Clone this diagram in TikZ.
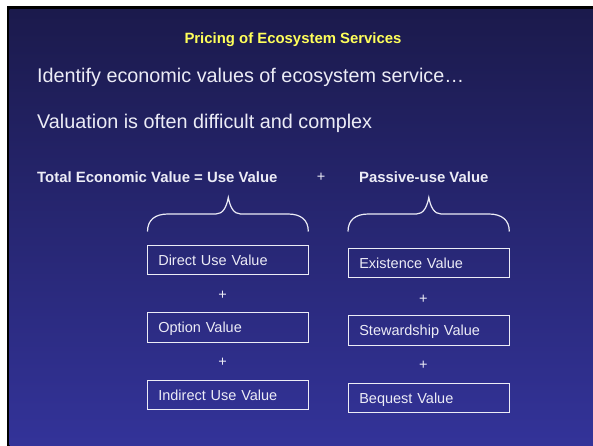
\documentclass[tikz,border=0pt]{standalone}
\usepackage{fontspec}
\setmainfont{Liberation Sans}
\usepackage{xcolor}
\definecolor{slidetop}{RGB}{27,26,76}
\definecolor{slidebot}{RGB}{51,51,153}
\definecolor{titleyellow}{RGB}{255,255,90}
\definecolor{pale}{RGB}{236,236,246}

\begin{document}
\begin{tikzpicture}[x=1pt,y=-1pt]
      \useasboundingbox (0,0) rectangle (593,446);
      \tikzset{T/.style = {text=pale, font=\fontsize{19.8}{23}\selectfont, anchor=base west, inner sep=0pt}}
      \tikzset{H/.style = {text=pale, font=\bfseries\fontsize{14.9}{17}\selectfont, anchor=base west, inner sep=0pt}}
      \tikzset{P/.style = {text=pale, font=\fontsize{14.5}{17}\selectfont, inner sep=0pt}}
      \tikzset{B/.style = {draw=pale, line width=1.2pt, minimum width=161pt, minimum height=29.5pt, text width=139pt, inner xsep=11pt, align=left, text=pale, font=\fontsize{14.5}{17}\selectfont, text height=10.5pt, text depth=0pt}}
      \tikzset{Br/.style = {draw=pale, line width=1.2pt}}
      \fill[white] (0,0) rectangle (593,446);
      \fill[black] (6.5,6.5) rectangle (593,446);
      \shade[top color=slidetop, bottom color=slidebot] (9.5,9.5) rectangle (593,446);
      \node[H,text=titleyellow,anchor=base](title) at (293,44) {Pricing of Ecosystem Services};
      \node[T](intro) at (37,82.5) {Identify economic values of ecosystem service…};
      \node[T](hard) at (37,129) {Valuation is often difficult and complex};
      \node[H](tev) at (37,182.3) {Total Economic Value = Use Value};
      \node[P](p0) at (321,177.3) {+};
      \node[H](passive) at (359,182.3) {Passive-use Value};
      \node[B](direct) at (227.8,260) {Direct Use Value};
      \node[P](p1) at (222.7,295.7) {+};
      \node[B](option) at (227.8,327.5) {Option Value};
      \node[P](p2) at (222.7,362.7) {+};
      \node[B](indirect) at (227.8,395) {Indirect Use Value};
      \node[B](exist) at (428.8,263) {Existence Value};
      \node[P](p3) at (423.3,299) {+};
      \node[B](steward) at (428.8,330.5) {Stewardship Value};
      \node[P](p4) at (423.3,365.7) {+};
      \node[B](bequest) at (428.8,398) {Bequest Value};
      \draw[Br](147.5,231.5) .. controls (147.5,220) and (155,214) .. (168,214) -- (216,214) .. controls (223,214) and (226.5,207) .. (228.3,197.5) .. controls (230.1,207) and (233.6,214) .. (240.6,214) -- (288,214) .. controls (301,214) and (308.3,220) .. (308.3,231.5);
      \draw[Br](348,231.5) .. controls (348,220) and (355.5,214) .. (368.5,214) -- (416.5,214) .. controls (423.5,214) and (427,207) .. (428.8,197.5) .. controls (430.6,207) and (434.1,214) .. (441.1,214) -- (488.8,214) .. controls (501.8,214) and (509.3,220) .. (509.3,231.5);
    \end{tikzpicture}
\end{document}
